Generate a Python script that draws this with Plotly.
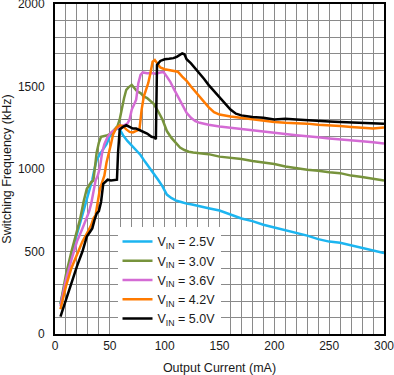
import plotly.graph_objects as go

# ---- data ----
x_25 = [5, 10, 14, 18, 23, 26, 29, 32, 34, 36, 38, 41, 44, 47, 50, 53, 56, 59, 62, 66, 70, 74, 78, 82, 86, 90, 94, 98, 102, 106, 110, 115, 120, 125, 130, 140, 150, 160, 170, 180, 190, 200, 210, 220, 230, 240, 250, 260, 270, 280, 290, 300]
y_25 = [185, 330, 450, 560, 675, 745, 815, 880, 935, 1000, 1055, 1090, 1120, 1150, 1200, 1225, 1245, 1240, 1205, 1170, 1140, 1115, 1085, 1045, 1010, 975, 935, 895, 845, 825, 810, 800, 790, 785, 776, 762, 748, 722, 700, 684, 662, 645, 630, 612, 596, 575, 560, 553, 538, 520, 505, 490]

x_30 = [5, 10, 15, 20, 23, 26, 29, 31, 33, 35, 36, 38, 40, 42, 45, 48, 51, 54, 57, 59, 61, 63, 65, 67, 70, 72, 75, 78, 81, 84, 87, 90, 94, 98, 102, 106, 110, 114, 118, 122, 126, 130, 140, 150, 160, 170, 180, 190, 200, 210, 220, 230, 240, 250, 260, 270, 280, 290, 300]
y_30 = [180, 360, 500, 620, 700, 800, 880, 900, 920, 930, 1000, 1100, 1160, 1195, 1200, 1205, 1215, 1240, 1260, 1300, 1370, 1430, 1480, 1495, 1510, 1495, 1470, 1460, 1440, 1430, 1410, 1395, 1350, 1300, 1230, 1190, 1160, 1130, 1115, 1105, 1100, 1098, 1090, 1075, 1068, 1060, 1048, 1040, 1030, 1015, 1005, 995, 990, 980, 975, 960, 952, 942, 930]

x_36 = [5, 10, 15, 20, 25, 29, 31, 33, 35, 37, 39, 41, 43, 45, 48, 51, 54, 57, 60, 63, 66, 68, 70, 72, 74, 76, 78, 80, 84, 88, 92, 96, 99, 102, 105, 108, 112, 116, 120, 124, 128, 132, 140, 150, 160, 170, 180, 190, 200, 210, 220, 230, 240, 250, 260, 270, 280, 290, 300]
y_36 = [170, 330, 450, 560, 640, 700, 740, 790, 870, 930, 960, 1010, 1100, 1150, 1195, 1220, 1235, 1250, 1260, 1265, 1275, 1300, 1360, 1390, 1420, 1520, 1570, 1585, 1580, 1582, 1578, 1585, 1588, 1560, 1530, 1490, 1440, 1390, 1340, 1310, 1290, 1280, 1268, 1258, 1250, 1240, 1236, 1228, 1220, 1212, 1205, 1200, 1192, 1185, 1178, 1175, 1168, 1162, 1155]

x_42 = [5, 10, 15, 20, 25, 30, 33, 35, 37, 39, 41, 43, 45, 47, 49, 51, 53, 56, 59, 62, 65, 68, 71, 74, 77, 79, 81, 83, 85, 87, 89, 91, 93, 96, 100, 104, 108, 112, 116, 120, 124, 128, 132, 136, 140, 145, 150, 160, 170, 180, 190, 200, 210, 220, 230, 240, 250, 260, 270, 280, 290, 300]
y_42 = [150, 290, 400, 480, 560, 620, 660, 700, 720, 800, 880, 920, 960, 1040, 1090, 1150, 1210, 1250, 1265, 1260, 1240, 1225, 1222, 1230, 1240, 1360, 1440, 1480, 1520, 1580, 1650, 1660, 1640, 1615, 1605, 1600, 1598, 1590, 1560, 1535, 1500, 1470, 1440, 1410, 1375, 1345, 1330, 1318, 1310, 1300, 1290, 1285, 1280, 1278, 1275, 1268, 1262, 1260, 1255, 1250, 1245, 1252]

x_50 = [5, 10, 15, 20, 25, 29, 32, 34, 36, 38, 40, 42, 44, 46, 48, 51, 54, 56.5, 57.5, 59, 62, 65, 68, 71, 74, 77, 80, 84, 88, 91, 92, 93, 96, 100, 104, 108, 111, 114, 116, 118, 120, 124, 128, 132, 136, 140, 144, 148, 152, 156, 160, 165, 170, 180, 190, 200, 210, 220, 230, 240, 250, 260, 270, 280, 290, 300]
y_50 = [105, 210, 310, 410, 500, 590, 620, 640, 690, 730, 745, 800, 910, 925, 935, 930, 935, 935, 1100, 1240, 1255, 1265, 1255, 1245, 1245, 1235, 1230, 1215, 1195, 1190, 1180, 1630, 1655, 1665, 1668, 1672, 1680, 1695, 1700, 1695, 1665, 1640, 1610, 1580, 1545, 1510, 1480, 1455, 1420, 1390, 1360, 1335, 1325, 1315, 1310, 1300, 1305, 1300, 1295, 1290, 1288, 1285, 1282, 1280, 1278, 1275]

series = [
    ("V<sub>IN</sub> = 2.5V", x_25, y_25, "#1CB5F0"),
    ("V<sub>IN</sub> = 3.0V", x_30, y_30, "#77933C"),
    ("V<sub>IN</sub> = 3.6V", x_36, y_36, "#D46BD4"),
    ("V<sub>IN</sub> = 4.2V", x_42, y_42, "#FF7A00"),
    ("V<sub>IN</sub> = 5.0V", x_50, y_50, "#000000"),
]

fig = go.Figure()
for name, xs, ys, col in series:
    fig.add_trace(go.Scatter(x=xs, y=ys, mode="lines", name=name,
                             line=dict(color=col, width=2.5)))

font_family = "Liberation Sans, Arial, sans-serif"
grid_col = "#8a8a8a"

fig.update_layout(
    width=394, height=375,
    margin=dict(l=55, r=10, t=4, b=41, autoexpand=False),
    plot_bgcolor="white", paper_bgcolor="white",
    font=dict(family=font_family, size=12, color="#1a1a1a"),
    showlegend=True,
    legend=dict(x=0.19, y=0.325, xanchor="left", yanchor="top",
                bgcolor="white", borderwidth=0,
                font=dict(size=12.5, color="#1a1a1a"),
                itemwidth=30, tracegroupgap=0),
)
fig.update_xaxes(
    range=[0, 300], dtick=50, tick0=0, automargin=False,
    ticklabeloverflow="allow",
    showgrid=True, gridcolor=grid_col, gridwidth=1,
    minor=dict(dtick=10, showgrid=True, gridcolor=grid_col, gridwidth=1),
    showline=True, linecolor="black", linewidth=2, mirror=True,
    ticks="", zeroline=False,
    title=dict(text="Output Current (mA)", font=dict(size=12.5), standoff=12),
)
fig.update_yaxes(
    range=[0, 2000], dtick=500, tick0=0, automargin=False,
    ticklabeloverflow="allow", ticklabelstandoff=6,
    showgrid=True, gridcolor=grid_col, gridwidth=1,
    minor=dict(dtick=100, showgrid=True, gridcolor=grid_col, gridwidth=1),
    showline=True, linecolor="black", linewidth=2, mirror=True,
    ticks="", zeroline=False,
    title=dict(text="Switching Frequency (kHz)", font=dict(size=12.5), standoff=6),
)

fig.write_html("out.html", config={"displayModeBar": False},
               post_script="document.body.style.margin='0';")
